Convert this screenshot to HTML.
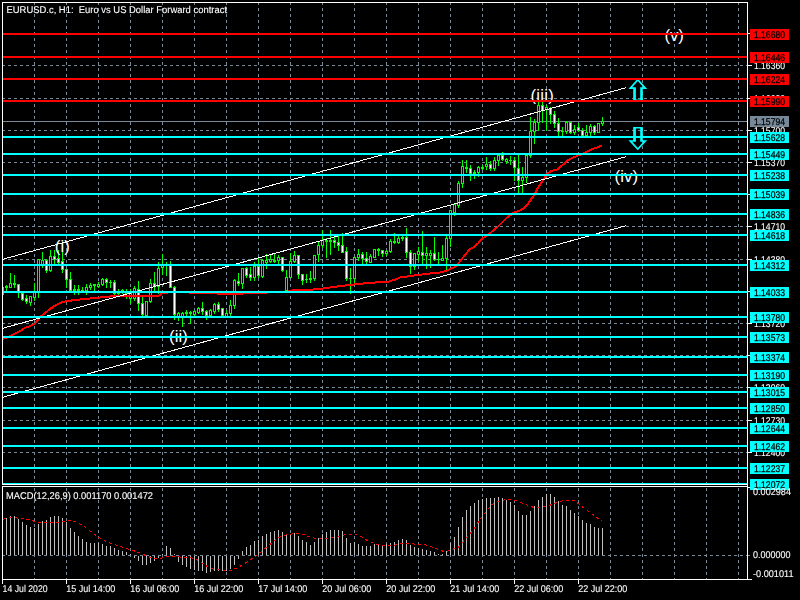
<!DOCTYPE html>
<html><head><meta charset="utf-8"><title>EURUSD.c, H1</title>
<style>html,body{margin:0;padding:0;background:#000;overflow:hidden}body{width:800px;height:600px;position:relative}</style>
</head><body>
<svg width="800" height="600" viewBox="0 0 800 600" style="display:block;position:absolute;left:0;top:0" font-family="'Liberation Sans', Arial, sans-serif">
<rect x="0" y="0" width="800" height="600" fill="#000"/>
<g stroke="#778899" stroke-width="1" stroke-dasharray="3 3" shape-rendering="crispEdges" fill="none">
<line x1="34.5" y1="2" x2="34.5" y2="484"/>
<line x1="34.5" y1="488" x2="34.5" y2="579"/>
<line x1="66.5" y1="2" x2="66.5" y2="484"/>
<line x1="66.5" y1="488" x2="66.5" y2="579"/>
<line x1="98.5" y1="2" x2="98.5" y2="484"/>
<line x1="98.5" y1="488" x2="98.5" y2="579"/>
<line x1="130.5" y1="2" x2="130.5" y2="484"/>
<line x1="130.5" y1="488" x2="130.5" y2="579"/>
<line x1="162.5" y1="2" x2="162.5" y2="484"/>
<line x1="162.5" y1="488" x2="162.5" y2="579"/>
<line x1="194.5" y1="2" x2="194.5" y2="484"/>
<line x1="194.5" y1="488" x2="194.5" y2="579"/>
<line x1="226.5" y1="2" x2="226.5" y2="484"/>
<line x1="226.5" y1="488" x2="226.5" y2="579"/>
<line x1="258.5" y1="2" x2="258.5" y2="484"/>
<line x1="258.5" y1="488" x2="258.5" y2="579"/>
<line x1="290.5" y1="2" x2="290.5" y2="484"/>
<line x1="290.5" y1="488" x2="290.5" y2="579"/>
<line x1="322.5" y1="2" x2="322.5" y2="484"/>
<line x1="322.5" y1="488" x2="322.5" y2="579"/>
<line x1="354.5" y1="2" x2="354.5" y2="484"/>
<line x1="354.5" y1="488" x2="354.5" y2="579"/>
<line x1="386.5" y1="2" x2="386.5" y2="484"/>
<line x1="386.5" y1="488" x2="386.5" y2="579"/>
<line x1="418.5" y1="2" x2="418.5" y2="484"/>
<line x1="418.5" y1="488" x2="418.5" y2="579"/>
<line x1="450.5" y1="2" x2="450.5" y2="484"/>
<line x1="450.5" y1="488" x2="450.5" y2="579"/>
<line x1="482.5" y1="2" x2="482.5" y2="484"/>
<line x1="482.5" y1="488" x2="482.5" y2="579"/>
<line x1="514.5" y1="2" x2="514.5" y2="484"/>
<line x1="514.5" y1="488" x2="514.5" y2="579"/>
<line x1="546.5" y1="2" x2="546.5" y2="484"/>
<line x1="546.5" y1="488" x2="546.5" y2="579"/>
<line x1="578.5" y1="2" x2="578.5" y2="484"/>
<line x1="578.5" y1="488" x2="578.5" y2="579"/>
<line x1="610.5" y1="2" x2="610.5" y2="484"/>
<line x1="610.5" y1="488" x2="610.5" y2="579"/>
<line x1="642.5" y1="2" x2="642.5" y2="484"/>
<line x1="642.5" y1="488" x2="642.5" y2="579"/>
<line x1="674.5" y1="2" x2="674.5" y2="484"/>
<line x1="674.5" y1="488" x2="674.5" y2="579"/>
<line x1="706.5" y1="2" x2="706.5" y2="484"/>
<line x1="706.5" y1="488" x2="706.5" y2="579"/>
<line x1="738.5" y1="2" x2="738.5" y2="484"/>
<line x1="738.5" y1="488" x2="738.5" y2="579"/>
<line x1="2" y1="65.5" x2="747" y2="65.5"/>
<line x1="2" y1="98.5" x2="747" y2="98.5"/>
<line x1="2" y1="130.5" x2="747" y2="130.5"/>
<line x1="2" y1="162.5" x2="747" y2="162.5"/>
<line x1="2" y1="194.5" x2="747" y2="194.5"/>
<line x1="2" y1="226.5" x2="747" y2="226.5"/>
<line x1="2" y1="259.5" x2="747" y2="259.5"/>
<line x1="2" y1="291.5" x2="747" y2="291.5"/>
<line x1="2" y1="323.5" x2="747" y2="323.5"/>
<line x1="2" y1="355.5" x2="747" y2="355.5"/>
<line x1="2" y1="387.5" x2="747" y2="387.5"/>
<line x1="2" y1="420.5" x2="747" y2="420.5"/>
<line x1="2" y1="452.5" x2="747" y2="452.5"/>
<line x1="2" y1="555.5" x2="747" y2="555.5"/>
<line x1="748" y1="555.5" x2="750" y2="555.5" stroke-dasharray="none"/>
</g>
<rect x="3" y="121" width="744" height="1" fill="#778899" shape-rendering="crispEdges"/>
<clipPath id="cc"><rect x="3" y="3" width="744" height="481"/></clipPath>
<g shape-rendering="crispEdges" clip-path="url(#cc)">
<rect x="2" y="287" width="1" height="8" fill="#00FF00"/>
<rect x="1" y="287" width="3" height="8" fill="#00FF00"/>
<rect x="2" y="288" width="1" height="6" fill="#000"/>
<rect x="6" y="285" width="1" height="7" fill="#00FF00"/>
<rect x="5" y="286" width="3" height="2" fill="#00FF00"/>
<rect x="10" y="273" width="1" height="15" fill="#00FF00"/>
<rect x="9" y="283" width="3" height="5" fill="#00FF00"/>
<rect x="10" y="284" width="1" height="3" fill="#000"/>
<rect x="14" y="275" width="1" height="13" fill="#00FF00"/>
<rect x="13" y="283" width="3" height="2" fill="#00FF00"/>
<rect x="18" y="284" width="1" height="14" fill="#00FF00"/>
<rect x="17" y="284" width="3" height="8" fill="#00FF00"/>
<rect x="18" y="285" width="1" height="6" fill="#fff"/>
<rect x="22" y="292" width="1" height="9" fill="#00FF00"/>
<rect x="21" y="293" width="3" height="7" fill="#00FF00"/>
<rect x="22" y="294" width="1" height="5" fill="#fff"/>
<rect x="26" y="295" width="1" height="9" fill="#00FF00"/>
<rect x="25" y="298" width="3" height="4" fill="#00FF00"/>
<rect x="26" y="299" width="1" height="2" fill="#fff"/>
<rect x="30" y="296" width="1" height="10" fill="#00FF00"/>
<rect x="29" y="296" width="3" height="7" fill="#00FF00"/>
<rect x="30" y="297" width="1" height="5" fill="#000"/>
<rect x="34" y="283" width="1" height="18" fill="#00FF00"/>
<rect x="33" y="292" width="3" height="6" fill="#00FF00"/>
<rect x="34" y="293" width="1" height="4" fill="#000"/>
<rect x="38" y="259" width="1" height="39" fill="#00FF00"/>
<rect x="37" y="259" width="3" height="34" fill="#00FF00"/>
<rect x="38" y="260" width="1" height="32" fill="#000"/>
<rect x="42" y="252" width="1" height="16" fill="#00FF00"/>
<rect x="41" y="260" width="3" height="5" fill="#00FF00"/>
<rect x="42" y="261" width="1" height="3" fill="#000"/>
<rect x="46" y="259" width="1" height="14" fill="#00FF00"/>
<rect x="45" y="260" width="3" height="11" fill="#00FF00"/>
<rect x="46" y="261" width="1" height="9" fill="#fff"/>
<rect x="50" y="250" width="1" height="22" fill="#00FF00"/>
<rect x="49" y="256" width="3" height="15" fill="#00FF00"/>
<rect x="50" y="257" width="1" height="13" fill="#000"/>
<rect x="54" y="250" width="1" height="16" fill="#00FF00"/>
<rect x="53" y="256" width="3" height="4" fill="#00FF00"/>
<rect x="54" y="257" width="1" height="2" fill="#fff"/>
<rect x="58" y="250" width="1" height="14" fill="#00FF00"/>
<rect x="57" y="258" width="3" height="5" fill="#00FF00"/>
<rect x="58" y="259" width="1" height="3" fill="#fff"/>
<rect x="62" y="242" width="1" height="31" fill="#00FF00"/>
<rect x="61" y="261" width="3" height="9" fill="#00FF00"/>
<rect x="62" y="262" width="1" height="7" fill="#fff"/>
<rect x="66" y="269" width="1" height="19" fill="#00FF00"/>
<rect x="65" y="269" width="3" height="11" fill="#00FF00"/>
<rect x="66" y="270" width="1" height="9" fill="#fff"/>
<rect x="70" y="272" width="1" height="19" fill="#00FF00"/>
<rect x="69" y="279" width="3" height="12" fill="#00FF00"/>
<rect x="70" y="280" width="1" height="10" fill="#fff"/>
<rect x="74" y="285" width="1" height="10" fill="#00FF00"/>
<rect x="73" y="289" width="3" height="2" fill="#00FF00"/>
<rect x="78" y="285" width="1" height="10" fill="#00FF00"/>
<rect x="77" y="289" width="3" height="2" fill="#00FF00"/>
<rect x="82" y="287" width="1" height="6" fill="#00FF00"/>
<rect x="81" y="290" width="3" height="1" fill="#00FF00"/>
<rect x="86" y="284" width="1" height="11" fill="#00FF00"/>
<rect x="85" y="287" width="3" height="4" fill="#00FF00"/>
<rect x="86" y="288" width="1" height="2" fill="#000"/>
<rect x="90" y="283" width="1" height="7" fill="#00FF00"/>
<rect x="89" y="285" width="3" height="3" fill="#00FF00"/>
<rect x="90" y="286" width="1" height="1" fill="#000"/>
<rect x="94" y="284" width="1" height="7" fill="#00FF00"/>
<rect x="93" y="284" width="3" height="2" fill="#00FF00"/>
<rect x="98" y="282" width="1" height="6" fill="#00FF00"/>
<rect x="97" y="284" width="3" height="3" fill="#00FF00"/>
<rect x="98" y="285" width="1" height="1" fill="#000"/>
<rect x="102" y="278" width="1" height="8" fill="#00FF00"/>
<rect x="101" y="279" width="3" height="6" fill="#00FF00"/>
<rect x="102" y="280" width="1" height="4" fill="#000"/>
<rect x="106" y="278" width="1" height="10" fill="#00FF00"/>
<rect x="105" y="279" width="3" height="4" fill="#00FF00"/>
<rect x="106" y="280" width="1" height="2" fill="#fff"/>
<rect x="110" y="280" width="1" height="8" fill="#00FF00"/>
<rect x="109" y="282" width="3" height="1" fill="#00FF00"/>
<rect x="114" y="280" width="1" height="16" fill="#00FF00"/>
<rect x="113" y="282" width="3" height="12" fill="#00FF00"/>
<rect x="114" y="283" width="1" height="10" fill="#fff"/>
<rect x="118" y="289" width="1" height="7" fill="#00FF00"/>
<rect x="117" y="292" width="3" height="2" fill="#00FF00"/>
<rect x="122" y="289" width="1" height="5" fill="#00FF00"/>
<rect x="121" y="290" width="3" height="3" fill="#00FF00"/>
<rect x="122" y="291" width="1" height="1" fill="#000"/>
<rect x="126" y="289" width="1" height="10" fill="#00FF00"/>
<rect x="125" y="291" width="3" height="3" fill="#00FF00"/>
<rect x="126" y="292" width="1" height="1" fill="#000"/>
<rect x="130" y="289" width="1" height="15" fill="#00FF00"/>
<rect x="129" y="293" width="3" height="6" fill="#00FF00"/>
<rect x="130" y="294" width="1" height="4" fill="#000"/>
<rect x="134" y="286" width="1" height="15" fill="#00FF00"/>
<rect x="133" y="288" width="3" height="11" fill="#00FF00"/>
<rect x="134" y="289" width="1" height="9" fill="#000"/>
<rect x="138" y="281" width="1" height="30" fill="#00FF00"/>
<rect x="137" y="289" width="3" height="15" fill="#00FF00"/>
<rect x="138" y="290" width="1" height="13" fill="#fff"/>
<rect x="142" y="297" width="1" height="19" fill="#00FF00"/>
<rect x="141" y="303" width="3" height="12" fill="#00FF00"/>
<rect x="142" y="304" width="1" height="10" fill="#fff"/>
<rect x="146" y="301" width="1" height="15" fill="#00FF00"/>
<rect x="145" y="301" width="3" height="15" fill="#00FF00"/>
<rect x="146" y="302" width="1" height="13" fill="#000"/>
<rect x="150" y="279" width="1" height="24" fill="#00FF00"/>
<rect x="149" y="283" width="3" height="19" fill="#00FF00"/>
<rect x="150" y="284" width="1" height="17" fill="#000"/>
<rect x="154" y="272" width="1" height="19" fill="#00FF00"/>
<rect x="153" y="283" width="3" height="4" fill="#00FF00"/>
<rect x="154" y="284" width="1" height="2" fill="#fff"/>
<rect x="158" y="262" width="1" height="32" fill="#00FF00"/>
<rect x="157" y="268" width="3" height="19" fill="#00FF00"/>
<rect x="158" y="269" width="1" height="17" fill="#000"/>
<rect x="162" y="254" width="1" height="21" fill="#00FF00"/>
<rect x="161" y="265" width="3" height="3" fill="#00FF00"/>
<rect x="162" y="266" width="1" height="1" fill="#000"/>
<rect x="166" y="262" width="1" height="14" fill="#00FF00"/>
<rect x="165" y="265" width="3" height="1" fill="#00FF00"/>
<rect x="170" y="261" width="1" height="27" fill="#00FF00"/>
<rect x="169" y="265" width="3" height="23" fill="#00FF00"/>
<rect x="170" y="266" width="1" height="21" fill="#fff"/>
<rect x="174" y="286" width="1" height="34" fill="#00FF00"/>
<rect x="173" y="287" width="3" height="28" fill="#00FF00"/>
<rect x="174" y="288" width="1" height="26" fill="#fff"/>
<rect x="178" y="312" width="1" height="9" fill="#00FF00"/>
<rect x="177" y="313" width="3" height="4" fill="#00FF00"/>
<rect x="178" y="314" width="1" height="2" fill="#000"/>
<rect x="182" y="312" width="1" height="15" fill="#00FF00"/>
<rect x="181" y="313" width="3" height="4" fill="#00FF00"/>
<rect x="182" y="314" width="1" height="2" fill="#000"/>
<rect x="186" y="310" width="1" height="7" fill="#00FF00"/>
<rect x="185" y="312" width="3" height="2" fill="#00FF00"/>
<rect x="190" y="311" width="1" height="13" fill="#00FF00"/>
<rect x="189" y="312" width="3" height="2" fill="#00FF00"/>
<rect x="194" y="310" width="1" height="7" fill="#00FF00"/>
<rect x="193" y="311" width="3" height="4" fill="#00FF00"/>
<rect x="194" y="312" width="1" height="2" fill="#000"/>
<rect x="198" y="307" width="1" height="7" fill="#00FF00"/>
<rect x="197" y="308" width="3" height="5" fill="#00FF00"/>
<rect x="198" y="309" width="1" height="3" fill="#000"/>
<rect x="202" y="302" width="1" height="13" fill="#00FF00"/>
<rect x="201" y="308" width="3" height="4" fill="#00FF00"/>
<rect x="202" y="309" width="1" height="2" fill="#fff"/>
<rect x="206" y="310" width="1" height="10" fill="#00FF00"/>
<rect x="205" y="311" width="3" height="5" fill="#00FF00"/>
<rect x="206" y="312" width="1" height="3" fill="#fff"/>
<rect x="210" y="309" width="1" height="8" fill="#00FF00"/>
<rect x="209" y="310" width="3" height="6" fill="#00FF00"/>
<rect x="210" y="311" width="1" height="4" fill="#000"/>
<rect x="214" y="303" width="1" height="11" fill="#00FF00"/>
<rect x="213" y="304" width="3" height="8" fill="#00FF00"/>
<rect x="214" y="305" width="1" height="6" fill="#000"/>
<rect x="218" y="302" width="1" height="10" fill="#00FF00"/>
<rect x="217" y="304" width="3" height="6" fill="#00FF00"/>
<rect x="218" y="305" width="1" height="4" fill="#fff"/>
<rect x="222" y="308" width="1" height="9" fill="#00FF00"/>
<rect x="221" y="308" width="3" height="8" fill="#00FF00"/>
<rect x="222" y="309" width="1" height="6" fill="#fff"/>
<rect x="226" y="310" width="1" height="7" fill="#00FF00"/>
<rect x="225" y="313" width="3" height="4" fill="#00FF00"/>
<rect x="226" y="314" width="1" height="2" fill="#000"/>
<rect x="230" y="300" width="1" height="16" fill="#00FF00"/>
<rect x="229" y="305" width="3" height="9" fill="#00FF00"/>
<rect x="230" y="306" width="1" height="7" fill="#000"/>
<rect x="234" y="279" width="1" height="30" fill="#00FF00"/>
<rect x="233" y="280" width="3" height="26" fill="#00FF00"/>
<rect x="234" y="281" width="1" height="24" fill="#000"/>
<rect x="238" y="273" width="1" height="13" fill="#00FF00"/>
<rect x="237" y="281" width="3" height="3" fill="#00FF00"/>
<rect x="238" y="282" width="1" height="1" fill="#fff"/>
<rect x="242" y="268" width="1" height="21" fill="#00FF00"/>
<rect x="241" y="268" width="3" height="16" fill="#00FF00"/>
<rect x="242" y="269" width="1" height="14" fill="#000"/>
<rect x="246" y="267" width="1" height="11" fill="#00FF00"/>
<rect x="245" y="268" width="3" height="8" fill="#00FF00"/>
<rect x="246" y="269" width="1" height="6" fill="#fff"/>
<rect x="250" y="267" width="1" height="14" fill="#00FF00"/>
<rect x="249" y="274" width="3" height="4" fill="#00FF00"/>
<rect x="250" y="275" width="1" height="2" fill="#fff"/>
<rect x="254" y="262" width="1" height="19" fill="#00FF00"/>
<rect x="253" y="266" width="3" height="12" fill="#00FF00"/>
<rect x="254" y="267" width="1" height="10" fill="#000"/>
<rect x="258" y="257" width="1" height="21" fill="#00FF00"/>
<rect x="257" y="266" width="3" height="10" fill="#00FF00"/>
<rect x="258" y="267" width="1" height="8" fill="#fff"/>
<rect x="262" y="259" width="1" height="19" fill="#00FF00"/>
<rect x="261" y="260" width="3" height="17" fill="#00FF00"/>
<rect x="262" y="261" width="1" height="15" fill="#000"/>
<rect x="266" y="254" width="1" height="15" fill="#00FF00"/>
<rect x="265" y="260" width="3" height="3" fill="#00FF00"/>
<rect x="266" y="261" width="1" height="1" fill="#000"/>
<rect x="270" y="254" width="1" height="9" fill="#00FF00"/>
<rect x="269" y="259" width="3" height="3" fill="#00FF00"/>
<rect x="270" y="260" width="1" height="1" fill="#000"/>
<rect x="274" y="254" width="1" height="9" fill="#00FF00"/>
<rect x="273" y="260" width="3" height="2" fill="#00FF00"/>
<rect x="278" y="255" width="1" height="9" fill="#00FF00"/>
<rect x="277" y="257" width="3" height="4" fill="#00FF00"/>
<rect x="278" y="258" width="1" height="2" fill="#000"/>
<rect x="282" y="257" width="1" height="15" fill="#00FF00"/>
<rect x="281" y="257" width="3" height="14" fill="#00FF00"/>
<rect x="282" y="258" width="1" height="12" fill="#fff"/>
<rect x="286" y="270" width="1" height="21" fill="#00FF00"/>
<rect x="285" y="277" width="3" height="14" fill="#00FF00"/>
<rect x="286" y="278" width="1" height="12" fill="#000"/>
<rect x="290" y="253" width="1" height="25" fill="#00FF00"/>
<rect x="289" y="261" width="3" height="17" fill="#00FF00"/>
<rect x="290" y="262" width="1" height="15" fill="#000"/>
<rect x="294" y="251" width="1" height="12" fill="#00FF00"/>
<rect x="293" y="255" width="3" height="7" fill="#00FF00"/>
<rect x="294" y="256" width="1" height="5" fill="#000"/>
<rect x="298" y="255" width="1" height="24" fill="#00FF00"/>
<rect x="297" y="255" width="3" height="20" fill="#00FF00"/>
<rect x="298" y="256" width="1" height="18" fill="#fff"/>
<rect x="302" y="274" width="1" height="11" fill="#00FF00"/>
<rect x="301" y="274" width="3" height="7" fill="#00FF00"/>
<rect x="302" y="275" width="1" height="5" fill="#fff"/>
<rect x="306" y="274" width="1" height="9" fill="#00FF00"/>
<rect x="305" y="279" width="3" height="1" fill="#00FF00"/>
<rect x="310" y="271" width="1" height="12" fill="#00FF00"/>
<rect x="309" y="278" width="3" height="2" fill="#00FF00"/>
<rect x="314" y="255" width="1" height="26" fill="#00FF00"/>
<rect x="313" y="255" width="3" height="24" fill="#00FF00"/>
<rect x="314" y="256" width="1" height="22" fill="#000"/>
<rect x="318" y="242" width="1" height="20" fill="#00FF00"/>
<rect x="317" y="245" width="3" height="10" fill="#00FF00"/>
<rect x="318" y="246" width="1" height="8" fill="#000"/>
<rect x="322" y="230" width="1" height="18" fill="#00FF00"/>
<rect x="321" y="240" width="3" height="6" fill="#00FF00"/>
<rect x="322" y="241" width="1" height="4" fill="#000"/>
<rect x="326" y="238" width="1" height="20" fill="#00FF00"/>
<rect x="325" y="240" width="3" height="2" fill="#00FF00"/>
<rect x="330" y="230" width="1" height="25" fill="#00FF00"/>
<rect x="329" y="240" width="3" height="2" fill="#00FF00"/>
<rect x="334" y="237" width="1" height="11" fill="#00FF00"/>
<rect x="333" y="240" width="3" height="3" fill="#00FF00"/>
<rect x="334" y="241" width="1" height="1" fill="#fff"/>
<rect x="338" y="236" width="1" height="15" fill="#00FF00"/>
<rect x="337" y="242" width="3" height="4" fill="#00FF00"/>
<rect x="338" y="243" width="1" height="2" fill="#fff"/>
<rect x="342" y="233" width="1" height="20" fill="#00FF00"/>
<rect x="341" y="245" width="3" height="8" fill="#00FF00"/>
<rect x="342" y="246" width="1" height="6" fill="#fff"/>
<rect x="346" y="247" width="1" height="34" fill="#00FF00"/>
<rect x="345" y="251" width="3" height="28" fill="#00FF00"/>
<rect x="346" y="252" width="1" height="26" fill="#fff"/>
<rect x="350" y="268" width="1" height="26" fill="#00FF00"/>
<rect x="349" y="278" width="3" height="1" fill="#00FF00"/>
<rect x="354" y="257" width="1" height="27" fill="#00FF00"/>
<rect x="353" y="257" width="3" height="22" fill="#00FF00"/>
<rect x="354" y="258" width="1" height="20" fill="#000"/>
<rect x="358" y="249" width="1" height="12" fill="#00FF00"/>
<rect x="357" y="254" width="3" height="4" fill="#00FF00"/>
<rect x="358" y="255" width="1" height="2" fill="#000"/>
<rect x="362" y="252" width="1" height="12" fill="#00FF00"/>
<rect x="361" y="254" width="3" height="5" fill="#00FF00"/>
<rect x="362" y="255" width="1" height="3" fill="#fff"/>
<rect x="366" y="252" width="1" height="12" fill="#00FF00"/>
<rect x="365" y="258" width="3" height="4" fill="#00FF00"/>
<rect x="366" y="259" width="1" height="2" fill="#fff"/>
<rect x="370" y="254" width="1" height="9" fill="#00FF00"/>
<rect x="369" y="256" width="3" height="7" fill="#00FF00"/>
<rect x="370" y="257" width="1" height="5" fill="#000"/>
<rect x="374" y="249" width="1" height="9" fill="#00FF00"/>
<rect x="373" y="249" width="3" height="9" fill="#00FF00"/>
<rect x="374" y="250" width="1" height="7" fill="#000"/>
<rect x="378" y="248" width="1" height="8" fill="#00FF00"/>
<rect x="377" y="249" width="3" height="2" fill="#00FF00"/>
<rect x="382" y="250" width="1" height="7" fill="#00FF00"/>
<rect x="381" y="250" width="3" height="4" fill="#00FF00"/>
<rect x="382" y="251" width="1" height="2" fill="#fff"/>
<rect x="386" y="250" width="1" height="6" fill="#00FF00"/>
<rect x="385" y="251" width="3" height="3" fill="#00FF00"/>
<rect x="386" y="252" width="1" height="1" fill="#000"/>
<rect x="390" y="239" width="1" height="14" fill="#00FF00"/>
<rect x="389" y="241" width="3" height="11" fill="#00FF00"/>
<rect x="390" y="242" width="1" height="9" fill="#000"/>
<rect x="394" y="233" width="1" height="11" fill="#00FF00"/>
<rect x="393" y="241" width="3" height="2" fill="#00FF00"/>
<rect x="398" y="236" width="1" height="8" fill="#00FF00"/>
<rect x="397" y="238" width="3" height="5" fill="#00FF00"/>
<rect x="398" y="239" width="1" height="3" fill="#000"/>
<rect x="402" y="236" width="1" height="5" fill="#00FF00"/>
<rect x="401" y="237" width="3" height="2" fill="#00FF00"/>
<rect x="406" y="228" width="1" height="30" fill="#00FF00"/>
<rect x="405" y="237" width="3" height="16" fill="#00FF00"/>
<rect x="406" y="238" width="1" height="14" fill="#fff"/>
<rect x="410" y="250" width="1" height="24" fill="#00FF00"/>
<rect x="409" y="252" width="3" height="15" fill="#00FF00"/>
<rect x="410" y="253" width="1" height="13" fill="#fff"/>
<rect x="414" y="253" width="1" height="17" fill="#00FF00"/>
<rect x="413" y="253" width="3" height="14" fill="#00FF00"/>
<rect x="414" y="254" width="1" height="12" fill="#000"/>
<rect x="418" y="247" width="1" height="14" fill="#00FF00"/>
<rect x="417" y="251" width="3" height="4" fill="#00FF00"/>
<rect x="418" y="252" width="1" height="2" fill="#000"/>
<rect x="422" y="231" width="1" height="33" fill="#00FF00"/>
<rect x="421" y="252" width="3" height="4" fill="#00FF00"/>
<rect x="422" y="253" width="1" height="2" fill="#fff"/>
<rect x="426" y="247" width="1" height="22" fill="#00FF00"/>
<rect x="425" y="253" width="3" height="3" fill="#00FF00"/>
<rect x="426" y="254" width="1" height="1" fill="#000"/>
<rect x="430" y="250" width="1" height="18" fill="#00FF00"/>
<rect x="429" y="253" width="3" height="3" fill="#00FF00"/>
<rect x="430" y="254" width="1" height="1" fill="#000"/>
<rect x="434" y="237" width="1" height="24" fill="#00FF00"/>
<rect x="433" y="253" width="3" height="7" fill="#00FF00"/>
<rect x="434" y="254" width="1" height="5" fill="#fff"/>
<rect x="438" y="252" width="1" height="12" fill="#00FF00"/>
<rect x="437" y="259" width="3" height="1" fill="#00FF00"/>
<rect x="442" y="245" width="1" height="16" fill="#00FF00"/>
<rect x="441" y="258" width="3" height="3" fill="#00FF00"/>
<rect x="442" y="259" width="1" height="1" fill="#000"/>
<rect x="446" y="236" width="1" height="35" fill="#00FF00"/>
<rect x="445" y="238" width="3" height="21" fill="#00FF00"/>
<rect x="446" y="239" width="1" height="19" fill="#000"/>
<rect x="450" y="210" width="1" height="37" fill="#00FF00"/>
<rect x="449" y="210" width="3" height="29" fill="#00FF00"/>
<rect x="450" y="211" width="1" height="27" fill="#000"/>
<rect x="454" y="204" width="1" height="12" fill="#00FF00"/>
<rect x="453" y="204" width="3" height="9" fill="#00FF00"/>
<rect x="454" y="205" width="1" height="7" fill="#000"/>
<rect x="458" y="181" width="1" height="27" fill="#00FF00"/>
<rect x="457" y="183" width="3" height="23" fill="#00FF00"/>
<rect x="458" y="184" width="1" height="21" fill="#000"/>
<rect x="462" y="160" width="1" height="28" fill="#00FF00"/>
<rect x="461" y="166" width="3" height="18" fill="#00FF00"/>
<rect x="462" y="167" width="1" height="16" fill="#000"/>
<rect x="466" y="160" width="1" height="13" fill="#00FF00"/>
<rect x="465" y="167" width="3" height="2" fill="#00FF00"/>
<rect x="470" y="165" width="1" height="16" fill="#00FF00"/>
<rect x="469" y="168" width="3" height="6" fill="#00FF00"/>
<rect x="470" y="169" width="1" height="4" fill="#fff"/>
<rect x="474" y="170" width="1" height="9" fill="#00FF00"/>
<rect x="473" y="172" width="3" height="2" fill="#00FF00"/>
<rect x="478" y="166" width="1" height="11" fill="#00FF00"/>
<rect x="477" y="167" width="3" height="6" fill="#00FF00"/>
<rect x="478" y="168" width="1" height="4" fill="#000"/>
<rect x="482" y="165" width="1" height="5" fill="#00FF00"/>
<rect x="481" y="167" width="3" height="2" fill="#00FF00"/>
<rect x="486" y="157" width="1" height="13" fill="#00FF00"/>
<rect x="485" y="164" width="3" height="3" fill="#00FF00"/>
<rect x="486" y="165" width="1" height="1" fill="#000"/>
<rect x="490" y="161" width="1" height="10" fill="#00FF00"/>
<rect x="489" y="164" width="3" height="5" fill="#00FF00"/>
<rect x="490" y="165" width="1" height="3" fill="#fff"/>
<rect x="494" y="157" width="1" height="14" fill="#00FF00"/>
<rect x="493" y="160" width="3" height="9" fill="#00FF00"/>
<rect x="494" y="161" width="1" height="7" fill="#000"/>
<rect x="498" y="155" width="1" height="11" fill="#00FF00"/>
<rect x="497" y="155" width="3" height="6" fill="#00FF00"/>
<rect x="498" y="156" width="1" height="4" fill="#000"/>
<rect x="502" y="152" width="1" height="9" fill="#00FF00"/>
<rect x="501" y="155" width="3" height="5" fill="#00FF00"/>
<rect x="502" y="156" width="1" height="3" fill="#fff"/>
<rect x="506" y="158" width="1" height="6" fill="#00FF00"/>
<rect x="505" y="159" width="3" height="3" fill="#00FF00"/>
<rect x="506" y="160" width="1" height="1" fill="#000"/>
<rect x="510" y="156" width="1" height="9" fill="#00FF00"/>
<rect x="509" y="160" width="3" height="1" fill="#00FF00"/>
<rect x="514" y="157" width="1" height="24" fill="#00FF00"/>
<rect x="513" y="160" width="3" height="8" fill="#00FF00"/>
<rect x="514" y="161" width="1" height="6" fill="#fff"/>
<rect x="518" y="155" width="1" height="38" fill="#00FF00"/>
<rect x="517" y="168" width="3" height="13" fill="#00FF00"/>
<rect x="518" y="169" width="1" height="11" fill="#fff"/>
<rect x="522" y="167" width="1" height="27" fill="#00FF00"/>
<rect x="521" y="177" width="3" height="4" fill="#00FF00"/>
<rect x="522" y="178" width="1" height="2" fill="#000"/>
<rect x="526" y="155" width="1" height="28" fill="#00FF00"/>
<rect x="525" y="155" width="3" height="23" fill="#00FF00"/>
<rect x="526" y="156" width="1" height="21" fill="#000"/>
<rect x="530" y="117" width="1" height="41" fill="#00FF00"/>
<rect x="529" y="131" width="3" height="25" fill="#00FF00"/>
<rect x="530" y="132" width="1" height="23" fill="#000"/>
<rect x="534" y="119" width="1" height="25" fill="#00FF00"/>
<rect x="533" y="122" width="3" height="10" fill="#00FF00"/>
<rect x="534" y="123" width="1" height="8" fill="#000"/>
<rect x="538" y="102" width="1" height="29" fill="#00FF00"/>
<rect x="537" y="105" width="3" height="18" fill="#00FF00"/>
<rect x="538" y="106" width="1" height="16" fill="#000"/>
<rect x="542" y="102" width="1" height="21" fill="#00FF00"/>
<rect x="541" y="105" width="3" height="6" fill="#00FF00"/>
<rect x="542" y="106" width="1" height="4" fill="#fff"/>
<rect x="546" y="105" width="1" height="26" fill="#00FF00"/>
<rect x="545" y="107" width="3" height="3" fill="#00FF00"/>
<rect x="546" y="108" width="1" height="1" fill="#000"/>
<rect x="550" y="107" width="1" height="17" fill="#00FF00"/>
<rect x="549" y="108" width="3" height="7" fill="#00FF00"/>
<rect x="550" y="109" width="1" height="5" fill="#fff"/>
<rect x="554" y="111" width="1" height="17" fill="#00FF00"/>
<rect x="553" y="114" width="3" height="10" fill="#00FF00"/>
<rect x="554" y="115" width="1" height="8" fill="#fff"/>
<rect x="558" y="118" width="1" height="18" fill="#00FF00"/>
<rect x="557" y="123" width="3" height="9" fill="#00FF00"/>
<rect x="558" y="124" width="1" height="7" fill="#fff"/>
<rect x="562" y="127" width="1" height="9" fill="#00FF00"/>
<rect x="561" y="131" width="3" height="1" fill="#00FF00"/>
<rect x="566" y="121" width="1" height="13" fill="#00FF00"/>
<rect x="565" y="122" width="3" height="10" fill="#00FF00"/>
<rect x="566" y="123" width="1" height="8" fill="#000"/>
<rect x="570" y="122" width="1" height="12" fill="#00FF00"/>
<rect x="569" y="122" width="3" height="11" fill="#00FF00"/>
<rect x="570" y="123" width="1" height="9" fill="#fff"/>
<rect x="574" y="125" width="1" height="10" fill="#00FF00"/>
<rect x="573" y="129" width="3" height="4" fill="#00FF00"/>
<rect x="574" y="130" width="1" height="2" fill="#000"/>
<rect x="578" y="123" width="1" height="9" fill="#00FF00"/>
<rect x="577" y="127" width="3" height="4" fill="#00FF00"/>
<rect x="578" y="128" width="1" height="2" fill="#fff"/>
<rect x="582" y="128" width="1" height="8" fill="#00FF00"/>
<rect x="581" y="130" width="3" height="6" fill="#00FF00"/>
<rect x="582" y="131" width="1" height="4" fill="#fff"/>
<rect x="586" y="125" width="1" height="11" fill="#00FF00"/>
<rect x="585" y="132" width="3" height="4" fill="#00FF00"/>
<rect x="586" y="133" width="1" height="2" fill="#000"/>
<rect x="590" y="124" width="1" height="12" fill="#00FF00"/>
<rect x="589" y="126" width="3" height="7" fill="#00FF00"/>
<rect x="590" y="127" width="1" height="5" fill="#000"/>
<rect x="594" y="125" width="1" height="10" fill="#00FF00"/>
<rect x="593" y="126" width="3" height="7" fill="#00FF00"/>
<rect x="594" y="127" width="1" height="5" fill="#fff"/>
<rect x="598" y="123" width="1" height="10" fill="#00FF00"/>
<rect x="597" y="123" width="3" height="10" fill="#00FF00"/>
<rect x="598" y="124" width="1" height="8" fill="#000"/>
<rect x="602" y="117" width="1" height="9" fill="#00FF00"/>
<rect x="601" y="121" width="3" height="3" fill="#00FF00"/>
<rect x="602" y="122" width="1" height="1" fill="#000"/>
</g>
<polyline points="3,339 10,336 20,331 25,328 30,326 35,323.6 40,317 45,313 50,309 56,305 62.5,302 68,301 75,300 87.5,298.75 100,297.5 106,297 115,296 158.5,296 162,292.8 167,292.8 168,292 189,292 190,292.8 217,292.8 218,294 242,294 243,292.8 266,292.8 267,292 287,292 290,290.6 310,289.75 320,289 330,287.5 340,286 350,285 360,283.75 370,283 380,282 388,282 390,281 395,279.75 400,277.5 410,276 420,274.75 430,273.5 440,272.5 446,271 450,269 455,267 458,263.75 462,258.75 466,253.75 470,249 474,247 478,243.5 482,239 484,237.5 489.4,233.75 497,227.5 507.5,217 515,212 520,210.6 525,207.5 530,201 535,193.75 537.5,188.75 542.5,181 547.5,173.75 551,171 557.5,169.4 562.5,165 567.5,160.6 572,158 578,155.6 585,152.5 591,149.75 597,147.5 602,145.6" fill="none" stroke="#FF0000" stroke-width="2" stroke-linejoin="round" shape-rendering="crispEdges"/>
<g shape-rendering="crispEdges" fill="#C0C0C0">
<rect x="6" y="518" width="1" height="37"/>
<rect x="10" y="516" width="1" height="39"/>
<rect x="14" y="516" width="1" height="39"/>
<rect x="18" y="519" width="1" height="36"/>
<rect x="22" y="522" width="1" height="33"/>
<rect x="26" y="525" width="1" height="30"/>
<rect x="30" y="527" width="1" height="28"/>
<rect x="34" y="528" width="1" height="27"/>
<rect x="38" y="524" width="1" height="31"/>
<rect x="42" y="521" width="1" height="34"/>
<rect x="46" y="520" width="1" height="35"/>
<rect x="50" y="517" width="1" height="38"/>
<rect x="54" y="516" width="1" height="39"/>
<rect x="58" y="516" width="1" height="39"/>
<rect x="62" y="518" width="1" height="37"/>
<rect x="66" y="522" width="1" height="33"/>
<rect x="70" y="528" width="1" height="27"/>
<rect x="74" y="532" width="1" height="23"/>
<rect x="78" y="536" width="1" height="19"/>
<rect x="82" y="539" width="1" height="16"/>
<rect x="86" y="542" width="1" height="13"/>
<rect x="90" y="543" width="1" height="12"/>
<rect x="94" y="543" width="1" height="12"/>
<rect x="98" y="543" width="1" height="12"/>
<rect x="102" y="544" width="1" height="11"/>
<rect x="106" y="546" width="1" height="9"/>
<rect x="110" y="546" width="1" height="9"/>
<rect x="114" y="548" width="1" height="7"/>
<rect x="118" y="550" width="1" height="5"/>
<rect x="122" y="551" width="1" height="4"/>
<rect x="126" y="552" width="1" height="3"/>
<rect x="130" y="554" width="1" height="1"/>
<rect x="134" y="556" width="1" height="2"/>
<rect x="138" y="556" width="1" height="5"/>
<rect x="142" y="556" width="1" height="9"/>
<rect x="146" y="556" width="1" height="9"/>
<rect x="150" y="556" width="1" height="7"/>
<rect x="154" y="556" width="1" height="5"/>
<rect x="158" y="556" width="1" height="2"/>
<rect x="162" y="554" width="1" height="1"/>
<rect x="166" y="546" width="1" height="9"/>
<rect x="170" y="548" width="1" height="7"/>
<rect x="174" y="554" width="1" height="1"/>
<rect x="178" y="556" width="1" height="6"/>
<rect x="182" y="556" width="1" height="9"/>
<rect x="186" y="556" width="1" height="11"/>
<rect x="190" y="556" width="1" height="13"/>
<rect x="194" y="556" width="1" height="14"/>
<rect x="198" y="556" width="1" height="15"/>
<rect x="202" y="556" width="1" height="15"/>
<rect x="206" y="556" width="1" height="17"/>
<rect x="210" y="556" width="1" height="16"/>
<rect x="214" y="556" width="1" height="15"/>
<rect x="218" y="556" width="1" height="15"/>
<rect x="222" y="556" width="1" height="15"/>
<rect x="226" y="556" width="1" height="15"/>
<rect x="230" y="556" width="1" height="13"/>
<rect x="234" y="556" width="1" height="9"/>
<rect x="238" y="556" width="1" height="3"/>
<rect x="242" y="551" width="1" height="4"/>
<rect x="246" y="547" width="1" height="8"/>
<rect x="250" y="545" width="1" height="10"/>
<rect x="254" y="541" width="1" height="14"/>
<rect x="258" y="540" width="1" height="15"/>
<rect x="262" y="536" width="1" height="19"/>
<rect x="266" y="534" width="1" height="21"/>
<rect x="270" y="532" width="1" height="23"/>
<rect x="274" y="531" width="1" height="24"/>
<rect x="278" y="530" width="1" height="25"/>
<rect x="282" y="532" width="1" height="23"/>
<rect x="286" y="535" width="1" height="20"/>
<rect x="290" y="534" width="1" height="21"/>
<rect x="294" y="533" width="1" height="22"/>
<rect x="298" y="536" width="1" height="19"/>
<rect x="302" y="540" width="1" height="15"/>
<rect x="306" y="542" width="1" height="13"/>
<rect x="310" y="545" width="1" height="10"/>
<rect x="314" y="542" width="1" height="13"/>
<rect x="318" y="538" width="1" height="17"/>
<rect x="322" y="534" width="1" height="21"/>
<rect x="326" y="532" width="1" height="23"/>
<rect x="330" y="530" width="1" height="25"/>
<rect x="334" y="530" width="1" height="25"/>
<rect x="338" y="530" width="1" height="25"/>
<rect x="342" y="531" width="1" height="24"/>
<rect x="346" y="538" width="1" height="17"/>
<rect x="350" y="543" width="1" height="12"/>
<rect x="354" y="542" width="1" height="13"/>
<rect x="358" y="544" width="1" height="11"/>
<rect x="362" y="546" width="1" height="9"/>
<rect x="366" y="546" width="1" height="9"/>
<rect x="370" y="546" width="1" height="9"/>
<rect x="374" y="544" width="1" height="11"/>
<rect x="378" y="545" width="1" height="10"/>
<rect x="382" y="545" width="1" height="10"/>
<rect x="386" y="544" width="1" height="11"/>
<rect x="390" y="543" width="1" height="12"/>
<rect x="394" y="542" width="1" height="13"/>
<rect x="398" y="540" width="1" height="15"/>
<rect x="402" y="539" width="1" height="16"/>
<rect x="406" y="540" width="1" height="15"/>
<rect x="410" y="545" width="1" height="10"/>
<rect x="414" y="547" width="1" height="8"/>
<rect x="418" y="548" width="1" height="7"/>
<rect x="422" y="549" width="1" height="6"/>
<rect x="426" y="550" width="1" height="5"/>
<rect x="430" y="551" width="1" height="4"/>
<rect x="434" y="552" width="1" height="3"/>
<rect x="438" y="554" width="1" height="1"/>
<rect x="442" y="554" width="1" height="1"/>
<rect x="446" y="551" width="1" height="4"/>
<rect x="450" y="543" width="1" height="12"/>
<rect x="454" y="537" width="1" height="18"/>
<rect x="458" y="527" width="1" height="28"/>
<rect x="462" y="517" width="1" height="38"/>
<rect x="466" y="510" width="1" height="45"/>
<rect x="470" y="506" width="1" height="49"/>
<rect x="474" y="503" width="1" height="52"/>
<rect x="478" y="500" width="1" height="55"/>
<rect x="482" y="499" width="1" height="56"/>
<rect x="486" y="498" width="1" height="57"/>
<rect x="490" y="498" width="1" height="57"/>
<rect x="494" y="498" width="1" height="57"/>
<rect x="498" y="497" width="1" height="58"/>
<rect x="502" y="498" width="1" height="57"/>
<rect x="506" y="500" width="1" height="55"/>
<rect x="510" y="502" width="1" height="53"/>
<rect x="514" y="505" width="1" height="50"/>
<rect x="518" y="511" width="1" height="44"/>
<rect x="522" y="515" width="1" height="40"/>
<rect x="526" y="515" width="1" height="40"/>
<rect x="530" y="511" width="1" height="44"/>
<rect x="534" y="506" width="1" height="49"/>
<rect x="538" y="500" width="1" height="55"/>
<rect x="542" y="497" width="1" height="58"/>
<rect x="546" y="494" width="1" height="61"/>
<rect x="550" y="494" width="1" height="61"/>
<rect x="554" y="497" width="1" height="58"/>
<rect x="558" y="501" width="1" height="54"/>
<rect x="562" y="505" width="1" height="50"/>
<rect x="566" y="506" width="1" height="49"/>
<rect x="570" y="510" width="1" height="45"/>
<rect x="574" y="513" width="1" height="42"/>
<rect x="578" y="516" width="1" height="39"/>
<rect x="582" y="520" width="1" height="35"/>
<rect x="586" y="523" width="1" height="32"/>
<rect x="590" y="524" width="1" height="31"/>
<rect x="594" y="527" width="1" height="28"/>
<rect x="598" y="528" width="1" height="27"/>
<rect x="602" y="528" width="1" height="27"/>
</g>
<polyline points="3,519.4 8,517.5 14,517.5 20,518.5 27,519.5 32,520 35,522 40,522.5 50,523 55,522.5 62,522 66,520.5 72,520.5 76,522 82,525 88,529.5 93,533 98,537 104,540.5 110,543 116,545 122,547 130,549.5 136,551.5 142,554 148,556.5 154,558.5 160,558.6 166,556.5 172,556 180,557 190,557.5 196,559 202,563 208,567 214,569.5 220,570 226,570.5 232,570 238,567.5 244,564 250,560 256,556 262,551 268,546 274,541 280,537 286,535 292,534 298,533.5 304,534.5 310,537 316,538.5 322,538.5 330,538 338,537 344,535 350,534.5 356,534.5 362,537 368,541 374,543.5 380,545 386,545.5 392,545.5 400,544 406,543.5 414,544 420,544.5 426,545 432,547 438,549.5 444,551.5 448,551 452,549.5 458,547.5 462,543 468,536 474,529 480,519.5 486,511.5 492,504.5 498,501.5 504,500 510,499.5 516,500.5 522,503 528,505.5 534,507.5 540,507.5 546,506.5 552,504.5 558,502 564,500.5 570,500.5 574,500.5 578,503.5 584,508 590,512.5 596,517 602,521" fill="none" stroke="#FF0000" stroke-width="1" stroke-dasharray="3 3" shape-rendering="crispEdges"/>
<text x="54.8" y="252" font-size="16.8" fill="#fff" textLength="15" lengthAdjust="spacing">(i)</text>
<text x="169" y="342" font-size="16.8" fill="#fff" textLength="18.8" lengthAdjust="spacing">(ii)</text>
<text x="530.5" y="101" font-size="16.8" fill="#fff" textLength="23.3" lengthAdjust="spacing">(iii)</text>
<text x="614.5" y="182" font-size="16.8" fill="#fff" textLength="23.5" lengthAdjust="spacing">(iv)</text>
<text x="664.5" y="41" font-size="16.8" fill="#fff" textLength="19.3" lengthAdjust="spacing">(v)</text>
<g stroke="#fff" stroke-width="1" fill="none" shape-rendering="crispEdges">
<line x1="3" y1="259.2" x2="626" y2="87.72"/>
<line x1="3" y1="328.2" x2="626" y2="156.72"/>
<line x1="3" y1="397.2" x2="626" y2="225.72"/>
</g>
<g fill="#00FFFF" fill-rule="evenodd">
<path d="M637.8 78.6 L647.2 88.9 L642.8 88.9 L642.8 101 L633.2 101 L633.2 88.9 L628.4 88.9 Z M637.8 81 L643.3 87.3 L640.2 87.3 L640.2 99.6 L635.9 99.6 L635.9 87.3 L632.3 87.3 Z"/>
<path d="M633.2 127 L642.8 127 L642.8 140.2 L647.2 140.2 L637.8 150.3 L628.4 140.2 L633.2 140.2 Z M635.9 128.6 L640.2 128.6 L640.2 141.8 L643.3 141.8 L637.8 147.9 L632.3 141.8 L635.9 141.8 Z"/>
</g>
<g shape-rendering="crispEdges">
<rect x="3" y="33" width="744" height="2" fill="#FF0000"/>
<rect x="3" y="56" width="744" height="2" fill="#FF0000"/>
<rect x="3" y="78" width="744" height="2" fill="#FF0000"/>
<rect x="3" y="100" width="744" height="2" fill="#FF0000"/>
<rect x="3" y="136" width="744" height="2" fill="#00FFFF"/>
<rect x="3" y="153" width="744" height="2" fill="#00FFFF"/>
<rect x="3" y="174" width="744" height="2" fill="#00FFFF"/>
<rect x="3" y="193" width="744" height="2" fill="#00FFFF"/>
<rect x="3" y="213" width="744" height="2" fill="#00FFFF"/>
<rect x="3" y="234" width="744" height="2" fill="#00FFFF"/>
<rect x="3" y="264" width="744" height="2" fill="#00FFFF"/>
<rect x="3" y="291" width="744" height="2" fill="#00FFFF"/>
<rect x="3" y="316" width="744" height="2" fill="#00FFFF"/>
<rect x="3" y="336" width="744" height="2" fill="#00FFFF"/>
<rect x="3" y="356" width="744" height="2" fill="#00FFFF"/>
<rect x="3" y="374" width="744" height="2" fill="#00FFFF"/>
<rect x="3" y="391" width="744" height="2" fill="#00FFFF"/>
<rect x="3" y="407" width="744" height="2" fill="#00FFFF"/>
<rect x="3" y="427" width="744" height="2" fill="#00FFFF"/>
<rect x="3" y="445" width="744" height="2" fill="#00FFFF"/>
<rect x="3" y="467" width="744" height="2" fill="#00FFFF"/>
<rect x="3" y="483" width="744" height="1" fill="#00FFFF"/>
</g>
<g shape-rendering="crispEdges" fill="#fff">
<rect x="2" y="2" width="746" height="1"/>
<rect x="2" y="2" width="1" height="483"/>
<rect x="2" y="484" width="746" height="1"/>
<rect x="747" y="2" width="1" height="578"/>
<rect x="2" y="486" width="746" height="1"/>
<rect x="2" y="486" width="1" height="94"/>
<rect x="2" y="579" width="746" height="1"/>
<rect x="748" y="33" width="4" height="1"/>
<rect x="748" y="65" width="4" height="1"/>
<rect x="748" y="98" width="4" height="1"/>
<rect x="748" y="130" width="4" height="1"/>
<rect x="748" y="162" width="4" height="1"/>
<rect x="748" y="194" width="4" height="1"/>
<rect x="748" y="226" width="4" height="1"/>
<rect x="748" y="259" width="4" height="1"/>
<rect x="748" y="291" width="4" height="1"/>
<rect x="748" y="323" width="4" height="1"/>
<rect x="748" y="355" width="4" height="1"/>
<rect x="748" y="387" width="4" height="1"/>
<rect x="748" y="420" width="4" height="1"/>
<rect x="748" y="452" width="4" height="1"/>
<rect x="748" y="487" width="4" height="1"/>
<rect x="748" y="579" width="4" height="1"/>
<rect x="2" y="580" width="1" height="4"/>
<rect x="66" y="580" width="1" height="4"/>
<rect x="130" y="580" width="1" height="4"/>
<rect x="194" y="580" width="1" height="4"/>
<rect x="258" y="580" width="1" height="4"/>
<rect x="322" y="580" width="1" height="4"/>
<rect x="386" y="580" width="1" height="4"/>
<rect x="450" y="580" width="1" height="4"/>
<rect x="514" y="580" width="1" height="4"/>
<rect x="578" y="580" width="1" height="4"/>
</g>
<defs><filter id="gs" x="-5%" y="-5%" width="110%" height="110%" color-interpolation-filters="sRGB"><feColorMatrix type="saturate" values="0"/></filter></defs>
<g filter="url(#gs)" font-size="9.8" stroke-width="0.25" text-rendering="geometricPrecision">
<text transform="translate(753.9 69.1) scale(1 1)" fill="#fff" stroke="#fff" stroke-width="0.1" textLength="31.1" lengthAdjust="spacingAndGlyphs">1.16360</text>
<text transform="translate(753.9 102.1) scale(1 1)" fill="#fff" stroke="#fff" stroke-width="0.1" textLength="31.1" lengthAdjust="spacingAndGlyphs">1.16030</text>
<text transform="translate(753.9 134.1) scale(1 1)" fill="#fff" stroke="#fff" stroke-width="0.1" textLength="31.1" lengthAdjust="spacingAndGlyphs">1.15700</text>
<text transform="translate(753.9 166.1) scale(1 1)" fill="#fff" stroke="#fff" stroke-width="0.1" textLength="31.1" lengthAdjust="spacingAndGlyphs">1.15370</text>
<text transform="translate(753.9 198.1) scale(1 1)" fill="#fff" stroke="#fff" stroke-width="0.1" textLength="31.1" lengthAdjust="spacingAndGlyphs">1.15040</text>
<text transform="translate(753.9 230.1) scale(1 1)" fill="#fff" stroke="#fff" stroke-width="0.1" textLength="31.1" lengthAdjust="spacingAndGlyphs">1.14710</text>
<text transform="translate(753.9 263.1) scale(1 1)" fill="#fff" stroke="#fff" stroke-width="0.1" textLength="31.1" lengthAdjust="spacingAndGlyphs">1.14380</text>
<text transform="translate(753.9 295.1) scale(1 1)" fill="#fff" stroke="#fff" stroke-width="0.1" textLength="31.1" lengthAdjust="spacingAndGlyphs">1.14050</text>
<text transform="translate(753.9 327.1) scale(1 1)" fill="#fff" stroke="#fff" stroke-width="0.1" textLength="31.1" lengthAdjust="spacingAndGlyphs">1.13720</text>
<text transform="translate(753.9 359.1) scale(1 1)" fill="#fff" stroke="#fff" stroke-width="0.1" textLength="31.1" lengthAdjust="spacingAndGlyphs">1.13390</text>
<text transform="translate(753.9 391.1) scale(1 1)" fill="#fff" stroke="#fff" stroke-width="0.1" textLength="31.1" lengthAdjust="spacingAndGlyphs">1.13060</text>
<text transform="translate(753.9 424.1) scale(1 1)" fill="#fff" stroke="#fff" stroke-width="0.1" textLength="31.1" lengthAdjust="spacingAndGlyphs">1.12730</text>
<text transform="translate(753.9 456.1) scale(1 1)" fill="#fff" stroke="#fff" stroke-width="0.1" textLength="31.1" lengthAdjust="spacingAndGlyphs">1.12400</text>
</g>
<g shape-rendering="crispEdges">
<rect x="750" y="29" width="39" height="11" fill="#FF0000"/>
<rect x="750" y="52" width="39" height="11" fill="#FF0000"/>
<rect x="750" y="74" width="39" height="11" fill="#FF0000"/>
<rect x="750" y="96" width="39" height="11" fill="#FF0000"/>
<rect x="750" y="116" width="39" height="11" fill="#778899"/>
<rect x="750" y="132" width="39" height="11" fill="#00FFFF"/>
<rect x="750" y="149" width="39" height="11" fill="#00FFFF"/>
<rect x="750" y="170" width="39" height="11" fill="#00FFFF"/>
<rect x="750" y="189" width="39" height="11" fill="#00FFFF"/>
<rect x="750" y="209" width="39" height="11" fill="#00FFFF"/>
<rect x="750" y="230" width="39" height="11" fill="#00FFFF"/>
<rect x="750" y="260" width="39" height="11" fill="#00FFFF"/>
<rect x="750" y="287" width="39" height="11" fill="#00FFFF"/>
<rect x="750" y="312" width="39" height="11" fill="#00FFFF"/>
<rect x="750" y="332" width="39" height="11" fill="#00FFFF"/>
<rect x="750" y="352" width="39" height="11" fill="#00FFFF"/>
<rect x="750" y="370" width="39" height="11" fill="#00FFFF"/>
<rect x="750" y="387" width="39" height="11" fill="#00FFFF"/>
<rect x="750" y="403" width="39" height="11" fill="#00FFFF"/>
<rect x="750" y="423" width="39" height="11" fill="#00FFFF"/>
<rect x="750" y="441" width="39" height="11" fill="#00FFFF"/>
<rect x="750" y="463" width="39" height="11" fill="#00FFFF"/>
<rect x="750" y="479" width="39" height="11" fill="#00FFFF"/>
</g>
<g filter="url(#gs)" font-size="9.8" stroke-width="0.25" text-rendering="geometricPrecision">
<text transform="translate(753.9 37.8) scale(1 1)" fill="#000" stroke="#000" stroke-width="0.25" textLength="31.1" lengthAdjust="spacingAndGlyphs">1.16680</text>
<text transform="translate(753.9 60.8) scale(1 1)" fill="#000" stroke="#000" stroke-width="0.25" textLength="31.1" lengthAdjust="spacingAndGlyphs">1.16446</text>
<text transform="translate(753.9 82.8) scale(1 1)" fill="#000" stroke="#000" stroke-width="0.25" textLength="31.1" lengthAdjust="spacingAndGlyphs">1.16224</text>
<text transform="translate(753.9 104.8) scale(1 1)" fill="#000" stroke="#000" stroke-width="0.25" textLength="31.1" lengthAdjust="spacingAndGlyphs">1.15990</text>
<text transform="translate(753.9 124.8) scale(1 1)" fill="#000" stroke="#000" stroke-width="0.25" textLength="31.1" lengthAdjust="spacingAndGlyphs">1.15794</text>
<text transform="translate(753.9 140.8) scale(1 1)" fill="#000" stroke="#000" stroke-width="0.25" textLength="31.1" lengthAdjust="spacingAndGlyphs">1.15628</text>
<text transform="translate(753.9 157.8) scale(1 1)" fill="#000" stroke="#000" stroke-width="0.25" textLength="31.1" lengthAdjust="spacingAndGlyphs">1.15449</text>
<text transform="translate(753.9 178.8) scale(1 1)" fill="#000" stroke="#000" stroke-width="0.25" textLength="31.1" lengthAdjust="spacingAndGlyphs">1.15238</text>
<text transform="translate(753.9 197.8) scale(1 1)" fill="#000" stroke="#000" stroke-width="0.25" textLength="31.1" lengthAdjust="spacingAndGlyphs">1.15039</text>
<text transform="translate(753.9 217.8) scale(1 1)" fill="#000" stroke="#000" stroke-width="0.25" textLength="31.1" lengthAdjust="spacingAndGlyphs">1.14836</text>
<text transform="translate(753.9 238.8) scale(1 1)" fill="#000" stroke="#000" stroke-width="0.25" textLength="31.1" lengthAdjust="spacingAndGlyphs">1.14618</text>
<text transform="translate(753.9 268.8) scale(1 1)" fill="#000" stroke="#000" stroke-width="0.25" textLength="31.1" lengthAdjust="spacingAndGlyphs">1.14312</text>
<text transform="translate(753.9 295.8) scale(1 1)" fill="#000" stroke="#000" stroke-width="0.25" textLength="31.1" lengthAdjust="spacingAndGlyphs">1.14033</text>
<text transform="translate(753.9 320.8) scale(1 1)" fill="#000" stroke="#000" stroke-width="0.25" textLength="31.1" lengthAdjust="spacingAndGlyphs">1.13780</text>
<text transform="translate(753.9 340.8) scale(1 1)" fill="#000" stroke="#000" stroke-width="0.25" textLength="31.1" lengthAdjust="spacingAndGlyphs">1.13573</text>
<text transform="translate(753.9 360.8) scale(1 1)" fill="#000" stroke="#000" stroke-width="0.25" textLength="31.1" lengthAdjust="spacingAndGlyphs">1.13374</text>
<text transform="translate(753.9 378.8) scale(1 1)" fill="#000" stroke="#000" stroke-width="0.25" textLength="31.1" lengthAdjust="spacingAndGlyphs">1.13190</text>
<text transform="translate(753.9 395.8) scale(1 1)" fill="#000" stroke="#000" stroke-width="0.25" textLength="31.1" lengthAdjust="spacingAndGlyphs">1.13015</text>
<text transform="translate(753.9 411.8) scale(1 1)" fill="#000" stroke="#000" stroke-width="0.25" textLength="31.1" lengthAdjust="spacingAndGlyphs">1.12850</text>
<text transform="translate(753.9 431.8) scale(1 1)" fill="#000" stroke="#000" stroke-width="0.25" textLength="31.1" lengthAdjust="spacingAndGlyphs">1.12644</text>
<text transform="translate(753.9 449.8) scale(1 1)" fill="#000" stroke="#000" stroke-width="0.25" textLength="31.1" lengthAdjust="spacingAndGlyphs">1.12462</text>
<text transform="translate(753.9 471.8) scale(1 1)" fill="#000" stroke="#000" stroke-width="0.25" textLength="31.1" lengthAdjust="spacingAndGlyphs">1.12237</text>
<text transform="translate(753.9 487.8) scale(1 1)" fill="#000" stroke="#000" stroke-width="0.25" textLength="31.1" lengthAdjust="spacingAndGlyphs">1.12072</text>
<text transform="translate(753 495) scale(1 1)" fill="#fff" stroke="#fff" stroke-width="0.1" textLength="38" lengthAdjust="spacingAndGlyphs">0.002984</text>
<text transform="translate(753 558) scale(1 1)" fill="#fff" stroke="#fff" stroke-width="0.1" textLength="37.5" lengthAdjust="spacingAndGlyphs">0.000000</text>
<text transform="translate(753 576.6) scale(1 1)" fill="#fff" stroke="#fff" stroke-width="0.1" textLength="40.5" lengthAdjust="spacingAndGlyphs">-0.001011</text>
<text transform="translate(2.6 592) scale(1 1)" fill="#fff" stroke="#fff" stroke-width="0.1" textLength="45" lengthAdjust="spacingAndGlyphs">14 Jul 2020</text>
<text transform="translate(66.2 592) scale(1 1)" fill="#fff" stroke="#fff" stroke-width="0.1" textLength="49" lengthAdjust="spacingAndGlyphs">15 Jul 14:00</text>
<text transform="translate(130.2 592) scale(1 1)" fill="#fff" stroke="#fff" stroke-width="0.1" textLength="49" lengthAdjust="spacingAndGlyphs">16 Jul 06:00</text>
<text transform="translate(194.2 592) scale(1 1)" fill="#fff" stroke="#fff" stroke-width="0.1" textLength="49" lengthAdjust="spacingAndGlyphs">16 Jul 22:00</text>
<text transform="translate(258.2 592) scale(1 1)" fill="#fff" stroke="#fff" stroke-width="0.1" textLength="49" lengthAdjust="spacingAndGlyphs">17 Jul 14:00</text>
<text transform="translate(322.2 592) scale(1 1)" fill="#fff" stroke="#fff" stroke-width="0.1" textLength="49" lengthAdjust="spacingAndGlyphs">20 Jul 06:00</text>
<text transform="translate(386.2 592) scale(1 1)" fill="#fff" stroke="#fff" stroke-width="0.1" textLength="49" lengthAdjust="spacingAndGlyphs">20 Jul 22:00</text>
<text transform="translate(450.2 592) scale(1 1)" fill="#fff" stroke="#fff" stroke-width="0.1" textLength="49" lengthAdjust="spacingAndGlyphs">21 Jul 14:00</text>
<text transform="translate(514.2 592) scale(1 1)" fill="#fff" stroke="#fff" stroke-width="0.1" textLength="49" lengthAdjust="spacingAndGlyphs">22 Jul 06:00</text>
<text transform="translate(578.2 592) scale(1 1)" fill="#fff" stroke="#fff" stroke-width="0.1" textLength="49" lengthAdjust="spacingAndGlyphs">22 Jul 22:00</text>
<text transform="translate(6.5 13) scale(1 1)" fill="#fff" stroke="#fff" stroke-width="0.1" textLength="220.5" lengthAdjust="spacingAndGlyphs" xml:space="preserve">EURUSD.c, H1:  Euro vs US Dollar Forward contract</text>
<text transform="translate(6 499) scale(1 1)" fill="#fff" stroke="#fff" stroke-width="0.1" textLength="147" lengthAdjust="spacingAndGlyphs">MACD(12,26,9) 0.001170 0.001472</text>
</g>
</svg>
</body></html>
